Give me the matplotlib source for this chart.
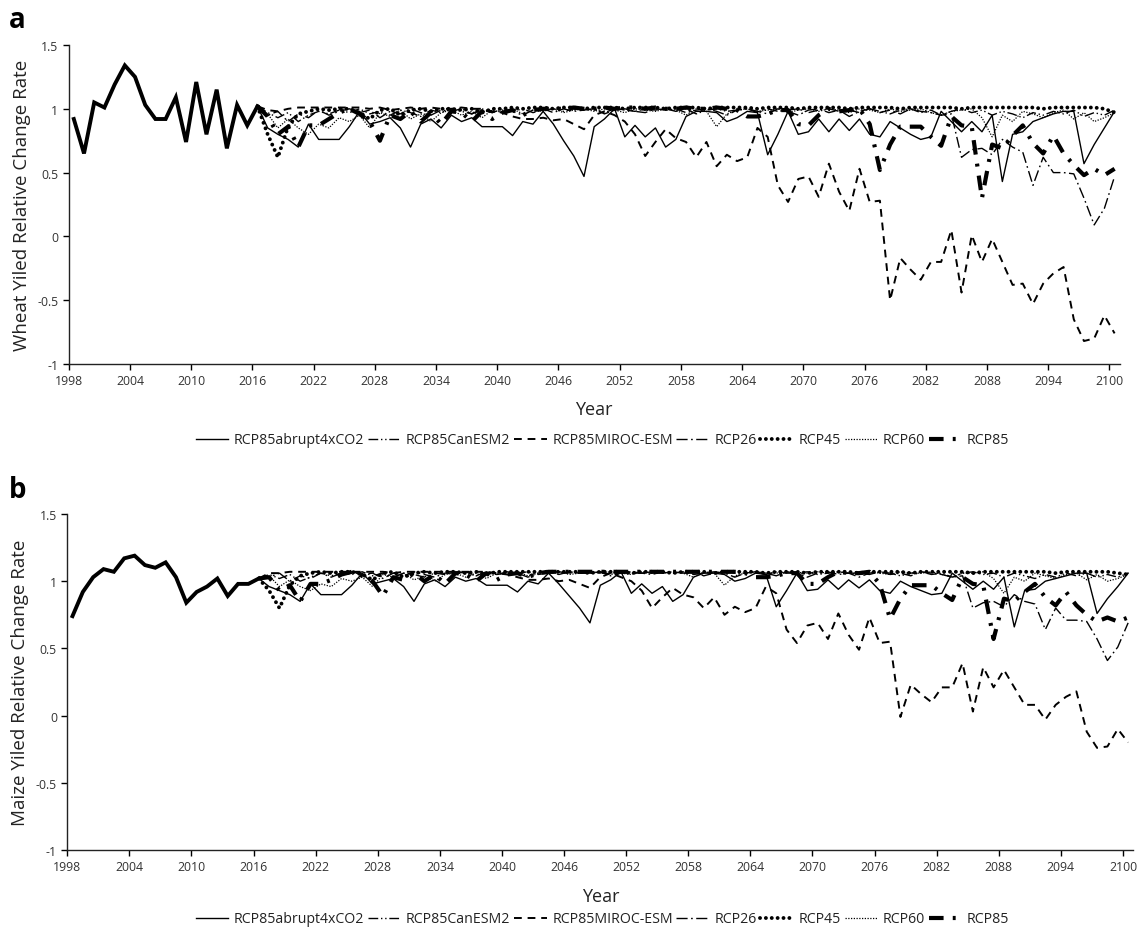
import numpy as np
import matplotlib
matplotlib.use("Agg")
import matplotlib.pyplot as plt

plt.rcParams['font.family'] = ['Open Sans', 'DejaVu Sans']

# ---------------- data ----------------
hist_years = list(range(1998, 2017))
future_years = list(range(2016, 2101))
tick_years = list(range(1998, 2101, 6))
y_ticks = [1.5, 1, 0.5, 0, -0.5, -1]
y_ticklabels = ["1.5", "1", "0.5", "0", "-0.5", "-1"]
series_names = ["RCP85abrupt4xCO2", "RCP85CanESM2", "RCP85MIROC-ESM",
                "RCP26", "RCP45", "RCP60", "RCP85"]

wheat_hist = [0.92, 0.65, 1.05, 1.01, 1.19, 1.34, 1.25, 1.03, 0.92, 0.92,
              1.09, 0.74, 1.21, 0.80, 1.15, 0.69, 1.03, 0.87, 1.02]
maize_hist = [0.74, 0.92, 1.03, 1.09, 1.07, 1.17, 1.19, 1.12, 1.10, 1.14,
              1.03, 0.84, 0.92, 0.96, 1.02, 0.89, 0.98, 0.98, 1.02]

wheat_abrupt = [1.02, 0.85, 0.80, 0.76, 0.70, 0.88, 0.76, 0.76, 0.76, 0.86,
                0.98, 0.88, 0.90, 0.93, 0.85, 0.70, 0.88, 0.92, 0.85, 0.95,
                0.90, 0.93, 0.86, 0.86, 0.86, 0.79, 0.90, 0.88, 0.98, 0.88,
                0.75, 0.63, 0.47, 0.86, 0.92, 1.00, 0.78, 0.87, 0.78, 0.85,
                0.70, 0.76, 0.94, 0.98, 0.98, 0.97, 0.90, 0.93, 0.98, 0.97,
                0.64, 0.80, 0.98, 0.80, 0.82, 0.92, 0.82, 0.92, 0.83, 0.92,
                0.80, 0.78, 0.90, 0.85, 0.80, 0.76, 0.78, 0.98, 0.90, 0.82,
                0.90, 0.82, 0.95, 0.43, 0.80, 0.82, 0.90, 0.93, 0.96, 0.98,
                0.98, 0.57, 0.72, 0.85, 0.98]
wheat_canesm2 = [1.02, 0.97, 0.93, 0.97, 0.90, 0.95, 0.98, 0.96, 0.99, 0.97,
                 1.00, 0.96, 0.98, 0.95, 0.99, 0.97, 0.94, 0.99, 0.97, 1.00,
                 0.98, 0.96, 1.00, 0.97, 0.99, 0.98, 1.00, 0.97, 0.99, 1.00,
                 0.98, 1.00, 0.99, 1.00, 0.97, 1.00, 0.99, 0.98, 1.00, 0.99,
                 1.00, 0.98, 1.00, 0.96, 0.99, 1.00, 0.98, 0.99, 1.00, 0.97,
                 1.00, 0.98, 0.99, 1.00, 0.97, 0.99, 1.00, 0.98, 0.99, 0.97,
                 1.00, 0.98, 0.96, 0.99, 1.00, 0.97, 0.99, 0.95, 0.98, 1.00,
                 0.97, 0.99, 0.95, 0.98, 0.96, 0.93, 0.97, 0.95, 0.98, 0.96,
                 0.99, 0.94, 0.97, 0.95, 0.99]
wheat_miroc = [1.02, 0.99, 0.98, 1.00, 1.01, 1.01, 1.01, 1.01, 1.01, 1.01,
               1.01, 1.00, 1.01, 0.99, 1.00, 1.01, 1.00, 1.01, 1.00, 1.00,
               1.01, 1.00, 1.00, 0.98, 0.97, 0.94, 0.92, 0.92, 0.93, 0.91,
               0.92, 0.88, 0.84, 0.95, 0.98, 0.95, 0.90, 0.80, 0.63, 0.74,
               0.84, 0.77, 0.74, 0.62, 0.74, 0.55, 0.64, 0.59, 0.62, 0.85,
               0.78, 0.40, 0.27, 0.45, 0.47, 0.31, 0.57, 0.35, 0.20, 0.53,
               0.27, 0.28, -0.50, -0.17, -0.26, -0.34, -0.20, -0.20, 0.05, -0.44,
               0.01, -0.20, -0.02, -0.20, -0.38, -0.37, -0.53, -0.37, -0.29, -0.24,
               -0.65, -0.82, -0.80, -0.62, -0.76]
wheat_rcp26 = [1.02, 0.95, 0.98, 0.90, 0.96, 0.93, 0.99, 0.95, 0.98, 1.00,
               0.97, 0.99, 0.93, 0.98, 0.96, 1.00, 0.97, 0.95, 0.99, 0.98,
               1.00, 0.96, 0.99, 0.97, 1.00, 0.98, 0.95, 0.99, 1.00, 0.97,
               1.00, 0.98, 0.99, 1.00, 0.96, 0.99, 1.00, 0.98, 0.97, 1.00,
               0.99, 1.00, 0.97, 0.99, 1.00, 0.98, 0.95, 0.99, 1.00, 0.98,
               0.96, 1.00, 0.98, 0.95, 0.99, 1.00, 0.97, 0.99, 0.94, 0.98,
               1.00, 0.97, 0.99, 0.96, 1.00, 0.98, 0.97, 0.95, 0.96, 0.62,
               0.68, 0.69, 0.64, 0.76, 0.70, 0.66, 0.40, 0.62, 0.50, 0.50,
               0.49, 0.30, 0.09, 0.22, 0.47]
wheat_rcp45 = [1.02, 0.80, 0.62, 0.86, 0.96, 0.98, 1.00, 0.99, 1.00, 1.00,
               0.97, 0.92, 0.99, 1.00, 0.95, 0.99, 1.00, 0.98, 1.00, 1.00,
               0.99, 1.00, 0.97, 1.00, 1.00, 1.01, 1.00, 1.01, 1.01, 1.00,
               1.01, 1.01, 1.00, 1.01, 1.01, 1.01, 1.00, 1.01, 1.01, 1.01,
               1.00, 1.01, 1.01, 1.01, 1.00, 1.01, 1.01, 1.01, 1.01, 1.00,
               1.01, 1.01, 1.01, 1.00, 1.01, 1.01, 1.01, 1.01, 1.00, 1.01,
               1.01, 1.01, 1.01, 1.00, 1.01, 1.01, 1.01, 1.01, 1.01, 1.00,
               1.01, 1.01, 1.01, 1.01, 1.01, 1.01, 1.01, 1.00, 1.01, 1.01,
               1.01, 1.01, 1.01, 1.00, 0.97]
wheat_rcp60 = [1.02, 0.96, 0.85, 0.92, 0.85, 0.80, 0.88, 0.85, 0.93, 0.90,
               0.95, 0.85, 0.97, 0.94, 0.99, 0.92, 0.96, 0.90, 0.97, 0.99,
               0.95, 0.98, 0.93, 0.99, 0.97, 1.00, 0.96, 0.99, 0.98, 1.00,
               0.97, 0.99, 1.00, 0.98, 1.00, 0.99, 0.97, 1.00, 0.99, 0.98,
               1.00, 0.99, 0.95, 1.00, 0.98, 0.86, 0.96, 0.99, 1.00, 0.98,
               0.99, 1.00, 0.97, 0.99, 1.00, 0.98, 1.00, 0.99, 0.97, 1.00,
               0.99, 0.97, 1.00, 0.98, 0.99, 1.00, 0.97, 0.95, 0.98, 0.99,
               1.00, 0.93, 0.78, 0.95, 0.90, 0.98, 0.96, 0.93, 0.97, 0.99,
               0.92, 0.97, 0.90, 0.93, 0.97]
wheat_rcp85 = [1.02, 0.94, 0.80, 0.86, 0.70, 0.87, 0.87, 0.92, 0.97, 1.00,
               0.96, 0.90, 0.75, 0.95, 0.92, 0.98, 0.90, 0.97, 0.88, 0.98,
               0.97, 0.90, 0.98, 0.92, 0.97, 0.99, 0.95, 0.99, 1.00, 1.00,
               1.00, 1.01, 1.00, 1.00, 1.01, 1.00, 1.01, 1.01, 1.00, 1.01,
               1.00, 1.00, 1.01, 1.00, 1.00, 1.01, 1.00, 0.99, 0.94, 0.94,
               0.96, 0.99, 0.99, 0.88, 0.87, 0.95, 1.00, 0.98, 0.99, 1.00,
               0.88, 0.52, 0.72, 0.86, 0.86, 0.86, 0.78, 0.71, 0.94, 0.87,
               0.86, 0.30, 0.72, 0.69, 0.79, 0.87, 0.73, 0.65, 0.79, 0.65,
               0.56, 0.48, 0.53, 0.48, 0.53]

maize_abrupt = [1.02, 0.96, 0.93, 0.90, 0.85, 0.98, 0.90, 0.90, 0.90, 0.97,
                1.06, 0.98, 1.00, 1.02, 0.96, 0.85, 0.98, 1.01, 0.96, 1.03,
                1.00, 1.02, 0.97, 0.97, 0.97, 0.92, 1.00, 0.98, 1.06, 0.98,
                0.89, 0.80, 0.69, 0.97, 1.01, 1.07, 0.91, 0.98, 0.91, 0.96,
                0.85, 0.90, 1.03, 1.06, 1.06, 1.05, 1.00, 1.02, 1.06, 1.05,
                0.81, 0.93, 1.06, 0.93, 0.94, 1.01, 0.94, 1.01, 0.95, 1.01,
                0.93, 0.91, 1.00, 0.96, 0.93, 0.90, 0.91, 1.06, 1.00, 0.94,
                1.00, 0.94, 1.03, 0.66, 0.93, 0.94, 1.00, 1.02, 1.04, 1.06,
                1.06, 0.76, 0.87, 0.96, 1.06]
maize_canesm2 = [1.02, 1.05, 1.02, 1.05, 1.00, 1.03, 1.06, 1.04, 1.06, 1.05,
                 1.07, 1.04, 1.06, 1.03, 1.06, 1.05, 1.03, 1.06, 1.05, 1.07,
                 1.06, 1.04, 1.07, 1.05, 1.06, 1.06, 1.07, 1.05, 1.06, 1.07,
                 1.06, 1.07, 1.06, 1.07, 1.05, 1.07, 1.06, 1.06, 1.07, 1.06,
                 1.07, 1.06, 1.07, 1.04, 1.06, 1.07, 1.06, 1.06, 1.07, 1.05,
                 1.07, 1.06, 1.06, 1.07, 1.05, 1.06, 1.07, 1.06, 1.06, 1.05,
                 1.07, 1.06, 1.04, 1.06, 1.07, 1.05, 1.06, 1.03, 1.06, 1.07,
                 1.05, 1.06, 1.03, 1.06, 1.04, 1.02, 1.05, 1.03, 1.06, 1.04,
                 1.06, 1.03, 1.05, 1.03, 1.06]
maize_miroc = [1.02, 1.06, 1.06, 1.07, 1.07, 1.07, 1.07, 1.07, 1.07, 1.07,
               1.07, 1.07, 1.07, 1.06, 1.07, 1.07, 1.07, 1.07, 1.07, 1.07,
               1.07, 1.07, 1.07, 1.06, 1.05, 1.03, 1.01, 1.01, 1.02, 1.00,
               1.01, 0.98, 0.95, 1.03, 1.06, 1.03, 1.00, 0.93, 0.80, 0.88,
               0.95, 0.90, 0.88, 0.80, 0.88, 0.75, 0.81, 0.77, 0.80, 0.96,
               0.91, 0.64, 0.54, 0.67, 0.69, 0.57, 0.76, 0.60, 0.49, 0.73,
               0.54, 0.55, -0.01, 0.23, 0.16, 0.10, 0.21, 0.21, 0.39, 0.03,
               0.36, 0.21, 0.34, 0.21, 0.08, 0.08, -0.03, 0.08, 0.14, 0.18,
               -0.12, -0.24, -0.23, -0.10, -0.20]
maize_rcp26 = [1.02, 1.03, 1.06, 1.00, 1.04, 1.02, 1.06, 1.03, 1.06, 1.07,
               1.05, 1.06, 1.02, 1.06, 1.04, 1.07, 1.05, 1.03, 1.06, 1.06,
               1.07, 1.04, 1.06, 1.05, 1.07, 1.06, 1.03, 1.06, 1.07, 1.05,
               1.07, 1.06, 1.06, 1.07, 1.04, 1.06, 1.07, 1.06, 1.05, 1.07,
               1.06, 1.07, 1.05, 1.06, 1.07, 1.06, 1.03, 1.06, 1.07, 1.06,
               1.04, 1.07, 1.06, 1.03, 1.06, 1.07, 1.05, 1.06, 1.03, 1.06,
               1.07, 1.05, 1.06, 1.04, 1.07, 1.06, 1.05, 1.03, 1.04, 0.80,
               0.84, 0.85, 0.81, 0.90, 0.85, 0.83, 0.64, 0.80, 0.71, 0.71,
               0.70, 0.57, 0.41, 0.51, 0.69]
maize_rcp45 = [1.02, 0.93, 0.80, 0.97, 1.04, 1.06, 1.07, 1.06, 1.07, 1.07,
               1.05, 1.01, 1.06, 1.07, 1.03, 1.06, 1.07, 1.06, 1.07, 1.07,
               1.06, 1.07, 1.05, 1.07, 1.07, 1.07, 1.07, 1.07, 1.07, 1.07,
               1.07, 1.07, 1.06, 1.07, 1.07, 1.07, 1.06, 1.07, 1.07, 1.07,
               1.06, 1.07, 1.07, 1.07, 1.06, 1.07, 1.07, 1.07, 1.07, 1.06,
               1.07, 1.07, 1.07, 1.06, 1.07, 1.07, 1.07, 1.07, 1.06, 1.07,
               1.07, 1.07, 1.07, 1.06, 1.07, 1.07, 1.07, 1.07, 1.07, 1.06,
               1.07, 1.07, 1.07, 1.07, 1.07, 1.07, 1.07, 1.06, 1.07, 1.07,
               1.07, 1.07, 1.07, 1.06, 1.05]
maize_rcp60 = [1.02, 1.04, 0.96, 1.01, 0.96, 0.93, 0.98, 0.96, 1.02, 1.00,
               1.03, 0.96, 1.05, 1.03, 1.06, 1.01, 1.04, 1.00, 1.05, 1.06,
               1.03, 1.06, 1.02, 1.06, 1.05, 1.07, 1.04, 1.06, 1.06, 1.07,
               1.05, 1.06, 1.07, 1.06, 1.07, 1.06, 1.05, 1.07, 1.06, 1.06,
               1.07, 1.06, 1.03, 1.07, 1.06, 0.97, 1.04, 1.06, 1.07, 1.06,
               1.06, 1.07, 1.05, 1.06, 1.07, 1.06, 1.07, 1.06, 1.05, 1.07,
               1.06, 1.05, 1.07, 1.06, 1.06, 1.07, 1.05, 1.03, 1.06, 1.06,
               1.07, 1.02, 0.91, 1.03, 1.00, 1.06, 1.04, 1.02, 1.05, 1.06,
               1.01, 1.05, 1.00, 1.02, 1.05]
maize_rcp85 = [1.02, 1.03, 0.93, 0.97, 0.85, 0.98, 0.98, 1.01, 1.05, 1.07,
               1.04, 1.00, 0.89, 1.03, 1.01, 1.06, 1.00, 1.05, 0.98, 1.06,
               1.05, 1.00, 1.06, 1.01, 1.05, 1.06, 1.03, 1.06, 1.07, 1.07,
               1.07, 1.07, 1.07, 1.07, 1.07, 1.07, 1.07, 1.07, 1.07, 1.07,
               1.07, 1.07, 1.07, 1.07, 1.07, 1.07, 1.07, 1.06, 1.03, 1.03,
               1.04, 1.06, 1.06, 0.98, 0.98, 1.03, 1.07, 1.06, 1.06, 1.07,
               0.98, 0.72, 0.87, 0.97, 0.97, 0.97, 0.91, 0.86, 1.03, 0.98,
               0.97, 0.57, 0.87, 0.85, 0.92, 0.98, 0.88, 0.82, 0.92, 0.82,
               0.75, 0.70, 0.73, 0.70, 0.73]

wheat_series = [wheat_abrupt, wheat_canesm2, wheat_miroc, wheat_rcp26,
                wheat_rcp45, wheat_rcp60, wheat_rcp85]
maize_series = [maize_abrupt, maize_canesm2, maize_miroc, maize_rcp26,
                maize_rcp45, maize_rcp60, maize_rcp85]

# ---------------- styles ----------------
styles = [
    dict(ls='-', lw=1.0),
    dict(ls=(0, (7, 2, 1, 2, 1, 2)), lw=1.0),
    dict(ls=(0, (4, 3)), lw=1.4),
    dict(ls=(0, (8, 2.5, 1.2, 2.5)), lw=1.0),
    dict(ls=(0, (0.01, 1.5)), lw=2.8, dash_capstyle='round'),
    dict(ls=(0, (1, 1.2)), lw=0.9),
    dict(ls=(0, (3.5, 2.2, 0.7, 2.2)), lw=3.0),
]

W, H = 1141, 929
fig = plt.figure(figsize=(W / 100, H / 100), dpi=100)

panels = [
    dict(rect=[68.7 / W, 1 - 365 / H, 1051 / W, 319 / H], hist=wheat_hist,
         series=wheat_series, ylabel="Wheat Yiled Relative Change Rate",
         letter="a", letter_y=1 - 20 / H, xlab_y=1 - 410 / H, leg_y=1 - 441 / H),
    dict(rect=[67.3 / W, 1 - 851 / H, 1066 / W, 336 / H], hist=maize_hist,
         series=maize_series, ylabel="Maize Yiled Relative Change Rate",
         letter="b", letter_y=1 - 490 / H, xlab_y=1 - 897 / H, leg_y=1 - 920 / H),
]

tick_color = '#333333'
for p in panels:
    ax = fig.add_axes(p['rect'])
    x_hist = np.array(hist_years) - hist_years[0] + 0.5
    x_fut = np.array(future_years) - hist_years[0] + 0.5
    ax.plot(x_hist, p['hist'], color='black', lw=2.8, solid_joinstyle='miter',
            zorder=5)
    handles = []
    for name, vals, st in zip(series_names, p['series'], styles):
        st = dict(st)
        ls = st.pop('ls')
        lw = st.pop('lw')
        h, = ax.plot(x_fut, vals, color='black', linestyle=ls, linewidth=lw,
                     label=name, **st)
        handles.append(h)
    ax.set_xlim(0, len(hist_years) + len(future_years) - 1)
    ax.set_ylim(-1, 1.5)
    ax.set_xticks([t - hist_years[0] for t in tick_years])
    ax.set_xticklabels([str(t) for t in tick_years])
    ax.set_yticks(y_ticks)
    ax.set_yticklabels(y_ticklabels)
    ax.tick_params(axis='both', direction='out', length=4, width=1,
                   labelsize=8.8, colors='black')
    ax.tick_params(axis='both', labelcolor=tick_color)
    for s in ['top', 'right']:
        ax.spines[s].set_visible(False)
    for s in ['left', 'bottom']:
        ax.spines[s].set_linewidth(1.0)
        ax.spines[s].set_color('#222222')
    ax.set_ylabel(p['ylabel'], fontsize=13.5, color='#222222')
    ax.yaxis.set_label_coords(-0.036 * 1051 / (p['rect'][2] * W), 0.5)
    fig.text(p['rect'][0] + p['rect'][2] / 2, p['xlab_y'], "Year",
             ha='center', va='center', fontsize=13, color='#222222')
    fig.text(9 / W, p['letter_y'], p['letter'], fontsize=20,
             fontweight='bold', ha='left', va='center')
    fig.legend(handles=handles, loc='center', bbox_to_anchor=(0.528, p['leg_y']),
               ncol=7, frameon=False, fontsize=10.2, handlelength=2.3,
               handletextpad=0.4, columnspacing=0.25, labelcolor='#222222')

fig.savefig("out.png", dpi=100)
